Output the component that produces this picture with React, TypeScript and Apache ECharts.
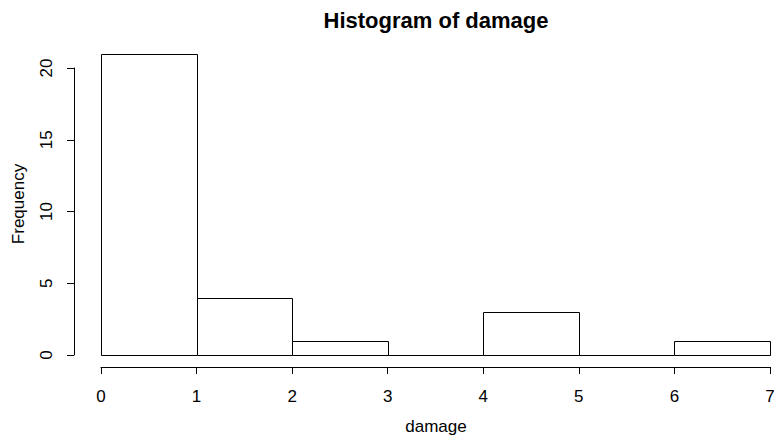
import React, { useEffect, useRef } from "react";
import * as echarts from "echarts";

const breaks = [0, 1, 2, 3, 4, 5, 6, 7];
const counts = [21, 4, 1, 0, 3, 0, 1];
const yTickInterval = 5;
const titleText = "Histogram of damage";
const xLabel = "damage";
const yLabel = "Frequency";

export default function App() {
  const ref = useRef<HTMLDivElement>(null);
  useEffect(() => {
    if (!ref.current) return;
    const chart = echarts.init(ref.current, null, { renderer: "svg" });
    const data = counts.map((c, i) => [breaks[i], breaks[i + 1], c]);
    const font = "'Liberation Sans', Arial, Helvetica, sans-serif";
    chart.setOption({
      animation: false,
      backgroundColor: "#fff",
      grid: {
        left: 101,
        right: 4,
        top: 68,
        bottom: 81,
        containLabel: false,
        outerBoundsMode: "none",
      },
      xAxis: {
        type: "value",
        min: breaks[0],
        max: breaks[breaks.length - 1],
        interval: 1,
        offset: 12,
        splitLine: { show: false },
        axisLine: { show: true, onZero: false, lineStyle: { color: "#000", width: 1 } },
        axisTick: { show: true, length: 7, lineStyle: { color: "#000" } },
        axisLabel: { color: "#000", fontSize: 17, fontFamily: font, margin: 21 },
      },
      yAxis: {
        type: "value",
        min: 0,
        max: 20,
        interval: yTickInterval,
        offset: 27,
        splitLine: { show: false },
        axisLine: { show: true, onZero: false, lineStyle: { color: "#000", width: 1 } },
        axisTick: { show: true, length: 7, lineStyle: { color: "#000" } },
        axisLabel: { color: "#000", fontSize: 17, fontFamily: font, margin: 19, rotate: 90 },
      },
      series: [
        {
          type: "custom",
          clip: false,
          data,
          encode: { x: [0, 1], y: 2 },
          renderItem: (params: any, api: any) => {
            const p0 = api.coord([api.value(0), api.value(2)]);
            const p1 = api.coord([api.value(1), 0]);
            return {
              type: "rect",
              shape: {
                x: Math.round(p0[0]) + 0.5,
                y: Math.round(p0[1]) + 0.5,
                width: Math.round(p1[0]) - Math.round(p0[0]),
                height: Math.round(p1[1]) - Math.round(p0[1]),
              },
              style: { fill: "#fff", stroke: "#000", lineWidth: 1 },
            };
          },
        },
      ],
      graphic: [
        {
          type: "text",
          x: 436,
          y: 20,
          style: {
            text: titleText,
            fill: "#000",
            font: `bold 22px ${font}`,
            textAlign: "center",
            textVerticalAlign: "middle",
          },
        },
        {
          type: "text",
          x: 436,
          y: 426,
          style: {
            text: xLabel,
            fill: "#000",
            font: `17px ${font}`,
            textAlign: "center",
            textVerticalAlign: "middle",
          },
        },
        {
          type: "text",
          x: 18,
          y: 204,
          rotation: Math.PI / 2,
          style: {
            text: yLabel,
            fill: "#000",
            font: `17px ${font}`,
            textAlign: "center",
            textVerticalAlign: "middle",
          },
        },
      ],
    });
    return () => chart.dispose();
  }, []);
  return (
    <div
      ref={ref}
      style={{ position: "fixed", left: 0, top: 0, width: 774, height: 436 }}
    />
  );
}
